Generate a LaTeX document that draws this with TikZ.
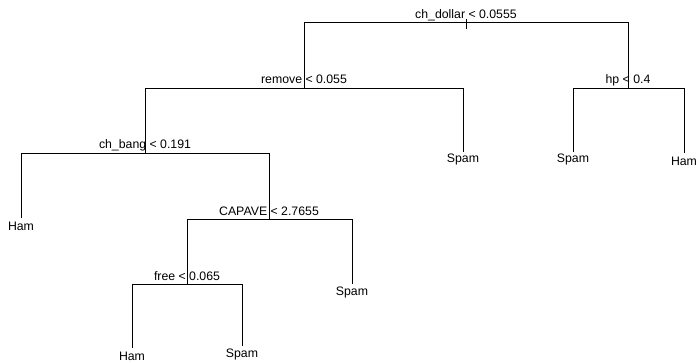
\documentclass[tikz,border=0pt]{standalone}
\usepackage{fontspec}
\setmainfont{Liberation Sans}
\begin{document}
\begin{tikzpicture}[x=1pt,y=-1pt,
  edge/.style={line width=0.9pt,line join=miter},
  splitlbl/.style={anchor=base,inner sep=0pt,font=\fontsize{12.3}{14}\selectfont},
  leaflbl/.style={anchor=base,inner sep=0pt,font=\fontsize{12.3}{14}\selectfont}]
\useasboundingbox (0,0) rectangle (697,362);
% internal nodes
\coordinate (root) at (466,22.5);
\coordinate (remove) at (304,88);
\coordinate (hp) at (628,88);
\coordinate (bang) at (145,153);
\coordinate (capave) at (269,219);
\coordinate (free) at (187,284.3);
% leaves
\coordinate (l1) at (463,151.7);
\coordinate (l2) at (573,151.7);
\coordinate (l3) at (684,152.7);
\coordinate (l4) at (21,218.3);
\coordinate (l5) at (352,284);
\coordinate (l6) at (132,348.3);
\coordinate (l7) at (242,346);
% connectors
\draw[edge] (remove) -- (remove|-root) -- (hp|-root) -- (hp);
\draw[edge] ([yshift=3.5pt]root) -- ([yshift=-6.5pt]root);
\draw[edge] (bang) -- (bang|-remove) -- (l1|-remove) -- (l1);
\draw[edge] (l2) -- (l2|-hp) -- (l3|-hp) -- (l3);
\draw[edge] (l4) -- (l4|-bang) -- (capave|-bang) -- (capave);
\draw[edge] (free) -- (free|-capave) -- (l5|-capave) -- (l5);
\draw[edge] (l6) -- (l6|-free) -- (l7|-free) -- (l7);
% split labels
\node[splitlbl] (t0) at ([yshift=4.5pt]root) {ch\_dollar < 0.0555};
\node[splitlbl] (t1) at ([yshift=4.5pt]remove) {remove < 0.055};
\node[splitlbl] (t2) at ([yshift=4.5pt]hp) {hp < 0.4};
\node[splitlbl] (t3) at ([yshift=5pt]bang) {ch\_bang < 0.191};
\node[splitlbl] (t4) at ([yshift=4pt]capave) {CAPAVE < 2.7655};
\node[splitlbl] (t5) at ([yshift=3.8pt]free) {free < 0.065};
% leaf labels
\node[leaflbl] (s1) at ([yshift=-11pt]l1) {Spam};
\node[leaflbl] (s2) at ([yshift=-11pt]l2) {Spam};
\node[leaflbl] (s3) at ([yshift=-12.5pt]l3) {Ham};
\node[leaflbl] (s4) at ([yshift=-12.5pt]l4) {Ham};
\node[leaflbl] (s5) at ([yshift=-11pt]l5) {Spam};
\node[leaflbl] (s6) at ([yshift=-12.5pt]l6) {Ham};
\node[leaflbl] (s7) at ([yshift=-11pt]l7) {Spam};
\end{tikzpicture}
\end{document}
